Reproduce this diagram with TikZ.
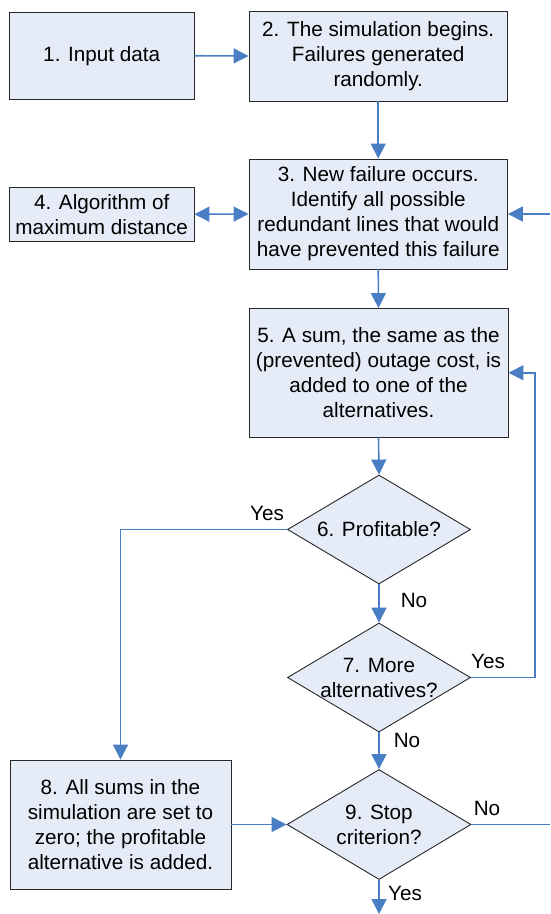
\documentclass[tikz,border=0pt]{standalone}
\usepackage{fontspec}
\setmainfont{Liberation Sans}
\usetikzlibrary{arrows.meta,shapes.geometric}
\definecolor{boxfill}{RGB}{230,236,247}
\definecolor{flowblue}{RGB}{74,126,196}
\definecolor{edge}{RGB}{40,40,40}
\tikzset{
  box/.style={draw=edge, line width=0.9pt, fill=boxfill, rectangle, inner sep=0pt, align=center,
    font=\fontsize{20.7}{25}\selectfont},
  dec/.style={draw=edge, line width=0.9pt, fill=boxfill, diamond, inner sep=0pt},
  txt/.style={inner sep=0pt, align=center, font=\fontsize{20.7}{25}\selectfont},
  lbl/.style={inner sep=0pt, font=\fontsize{20.7}{25}\selectfont},
  arr/.style={draw=flowblue, line width=1.6pt, -{Triangle[length=15pt,width=15pt]}},
  arrboth/.style={draw=flowblue, line width=1.6pt, {Triangle[length=15pt,width=15pt]}-{Triangle[length=15pt,width=15pt]}},
  conn/.style={draw=flowblue, line width=1.6pt},
}
\begin{document}
\begin{tikzpicture}[x=1pt,y=-1pt]
\useasboundingbox (0,0) rectangle (550,914);
\node[box, minimum width=184.5pt, minimum height=87pt] (b1) at (101.75,55.75) {1. Input data};
\node[box, minimum width=258.5pt, minimum height=90pt] (b2) at (378.25,56) {2. The simulation begins.\\Failures generated\\randomly.};
\node[box, minimum width=258.5pt, minimum height=110pt] (b3) at (378.25,214) {3. New failure occurs.\\Identify all possible\\redundant lines that would\\have prevented this failure};
\node[box, minimum width=184.5pt, minimum height=54.5pt] (b4) at (101.75,214.25) {4. Algorithm of\\maximum distance};
\node[box, minimum width=259pt, minimum height=128.5pt] (b5) at (378.5,372.75) {5. A sum, the same as the\\(prevented) outage cost, is\\added to one of the\\alternatives.};
\node[dec, minimum width=183pt, minimum height=109pt] (d6) at (379,529.5) {};
\node[txt] (t6) at (d6) {6. Profitable?};
\node[dec, minimum width=183pt, minimum height=109pt] (d7) at (379,677.5) {};
\node[txt] (t7) at (d7) {7. More\\alternatives?};
\node[box, minimum width=221pt, minimum height=129pt] (b8) at (120.5,824.5) {8. All sums in the\\simulation are set to\\zero; the profitable\\alternative is added.};
\node[dec, minimum width=184pt, minimum height=110pt] (d9) at (379,824.5) {};
\node[txt] (t9) at (d9) {9. Stop\\criterion?};

\coordinate (r3) at (550,214);
\coordinate (lp) at (535,677.5);
\coordinate (r9) at (550,824.5);
\coordinate (e9) at (379,914);

\draw[arr] (b1.east) -- (b2.west);
\draw[arr] (b2.south) -- (b3.north);
\draw[arrboth] (b4.east) -- (b3.west);
\draw[arr] (r3) -- (b3.east);
\draw[arr] (b3.south) -- (b5.north);
\draw[arr] (b5.south) -- (d6.north);
\draw[arr] (d6.south) -- (d7.north);
\draw[arr] (d6.west) -| (b8.north);
\draw[arr] (d7.east) -- (lp) |- (b5.east);
\draw[arr] (d7.south) -- (d9.north);
\draw[arr] (b8.east) -- (d9.west);
\draw[conn] (d9.east) -- (r9);
\draw[arr] (d9.south) -- (e9);

\node[lbl] (l6y) at (267,513) {Yes};
\node[lbl] (l6n) at (414,600) {No};
\node[lbl] (l7y) at (488,661) {Yes};
\node[lbl] (l7n) at (407,740) {No};
\node[lbl] (l9n) at (487,808) {No};
\node[lbl] (l9y) at (405,893) {Yes};
\end{tikzpicture}
\end{document}
